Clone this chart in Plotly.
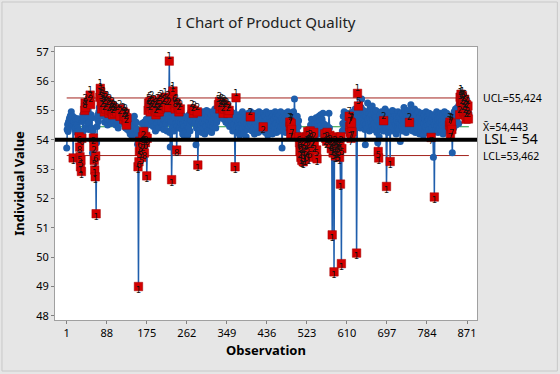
import plotly.graph_objects as go

# ---------------- data ----------------
values = [
53.72,54.35,54.52,54.28,54.61,54.45,54.73,54.58,54.82,54.66,
54.95,54.71,54.52,54.80,53.38,54.48,54.63,54.36,54.74,54.55,
54.41,54.68,54.25,54.52,54.39,54.72,54.30,54.10,53.75,53.42,
53.08,53.30,52.92,54.05,54.62,54.85,54.30,54.70,54.92,55.00,
55.25,55.10,54.88,54.42,54.65,54.90,54.55,54.78,54.35,54.60,
55.35,55.52,55.20,54.85,54.40,54.75,53.55,54.30,54.06,53.77,
53.30,52.97,52.74,53.45,51.48,53.90,54.45,54.70,54.85,54.62,
54.95,55.10,55.45,55.75,55.63,55.30,55.05,55.40,54.80,55.20,
55.50,55.15,54.95,54.60,55.28,55.05,54.75,55.35,54.85,54.50,
54.70,55.10,54.90,55.25,54.65,55.00,54.80,54.55,54.95,55.15,
54.85,55.05,54.70,54.60,54.90,55.00,54.75,54.50,54.80,54.95,
54.65,54.85,54.40,54.70,54.95,55.05,54.80,54.60,54.90,54.75,
55.10,54.85,54.60,54.95,54.70,54.55,54.80,54.90,54.40,54.65,
54.50,54.75,54.35,54.60,54.45,54.70,54.30,54.55,54.20,54.65,
54.40,54.15,54.55,54.35,54.70,54.25,54.50,54.80,54.30,54.45,
54.20,54.60,54.35,54.10,53.85,53.08,49.00,53.25,53.60,53.95,
54.30,53.70,54.20,53.40,54.55,54.10,53.85,54.28,54.60,53.55,
54.40,53.90,54.11,54.70,52.77,54.05,54.50,55.00,55.25,54.85,
55.10,55.30,54.95,54.70,55.15,55.35,54.60,55.05,54.45,54.90,
55.20,54.75,55.00,54.30,54.85,55.10,54.55,54.95,55.25,54.70,
54.40,54.95,55.30,55.05,54.60,54.85,55.40,54.75,54.50,55.15,
54.90,54.35,55.20,54.65,55.45,54.80,54.55,55.10,54.30,54.90,
55.35,54.70,55.10,56.68,54.25,53.75,54.60,54.95,52.64,54.40,
55.55,55.66,54.90,54.30,55.20,54.75,55.05,54.55,55.25,53.65,
54.45,54.80,55.10,54.65,54.95,54.40,54.75,55.05,54.60,54.85,
54.35,54.70,54.20,54.55,54.80,54.45,54.10,54.65,54.30,54.75,
54.50,54.25,54.60,54.15,54.70,54.40,54.85,54.55,54.30,54.65,
54.95,54.70,55.05,54.80,54.60,54.90,54.75,55.00,54.55,54.85,
54.65,53.83,54.40,54.75,54.95,53.14,54.50,54.80,54.60,54.90,
54.35,54.70,54.50,54.85,54.25,54.60,54.95,54.40,54.75,54.55,
54.20,54.65,54.90,54.45,55.00,54.70,54.30,54.80,54.55,54.95,
54.60,54.35,54.75,54.50,54.85,54.25,54.65,54.95,54.45,54.70,
54.90,54.55,55.05,54.75,54.40,54.85,54.60,55.00,54.70,54.95,
55.20,54.85,55.30,55.05,54.75,55.15,54.95,55.25,54.80,55.10,
54.90,55.20,54.70,55.05,54.85,55.15,54.60,54.95,55.10,54.75,
54.55,54.90,54.70,55.00,54.45,54.80,54.65,54.95,54.50,54.85,
54.60,54.30,54.75,54.50,54.90,54.35,53.08,54.70,55.43,54.80,
54.45,54.70,54.25,54.60,54.85,54.40,54.15,54.65,54.50,54.80,
54.30,54.55,54.95,54.40,54.70,54.20,54.60,54.85,54.45,54.75,
54.10,54.55,54.80,54.35,54.65,54.90,54.45,54.70,54.60,54.78,
54.95,54.50,54.75,54.30,54.60,54.85,54.40,54.65,54.20,54.70,
54.55,54.90,54.35,54.70,54.45,54.80,54.25,54.60,54.95,54.50,
54.75,54.30,54.65,54.85,54.40,54.70,54.55,54.44,54.90,54.35,
54.60,54.80,54.25,54.65,54.95,54.45,54.70,54.15,54.55,54.85,
54.40,54.70,54.30,54.60,54.90,54.50,54.75,54.20,54.65,54.85,
54.45,54.70,54.35,54.95,54.55,54.80,54.25,54.60,54.90,54.40,
54.75,54.50,54.85,54.30,54.65,54.95,54.45,54.70,53.72,54.55,
54.80,54.35,54.65,54.90,54.50,54.75,54.25,54.60,54.85,54.45,
54.70,54.95,54.55,54.30,54.80,54.60,54.45,54.20,54.55,54.35,
54.70,54.90,54.50,54.95,54.65,55.39,54.75,54.40,54.60,54.30,
54.55,54.80,54.20,54.45,54.65,54.10,53.90,53.60,53.85,53.40,
53.75,53.30,54.05,53.55,53.25,53.80,53.45,54.00,53.35,53.65,
53.90,53.50,54.10,53.70,54.28,53.95,53.40,54.15,53.60,54.30,
54.50,54.20,54.70,53.95,54.45,54.00,54.60,54.25,53.80,54.40,
54.55,54.15,54.75,53.65,53.35,54.35,54.60,54.20,54.80,54.45,
54.65,54.30,54.85,54.50,54.25,54.70,54.40,54.90,54.55,54.35,
54.45,54.20,54.50,54.05,54.35,53.95,54.25,54.45,54.10,54.30,
54.90,54.40,54.15,53.90,54.05,53.70,53.85,50.76,54.00,53.55,
53.80,49.50,53.65,54.10,53.45,53.95,53.60,54.05,53.75,53.50,
53.90,53.65,54.00,53.40,53.85,52.49,54.10,49.78,53.70,54.30,
54.55,54.80,54.35,54.95,54.60,54.75,54.40,54.85,54.50,54.90,
54.65,54.30,54.70,54.55,54.80,54.45,54.25,54.60,54.05,54.57,
54.27,54.80,54.40,54.95,54.65,54.30,54.85,55.05,54.50,54.75,
50.14,54.70,55.58,55.00,55.15,54.85,54.55,54.95,54.40,54.80,
55.10,55.39,54.65,54.90,54.45,55.00,54.60,54.85,54.35,53.83,
54.50,54.80,54.95,54.40,55.25,54.70,54.55,54.90,54.30,54.75,
55.05,54.60,54.85,54.45,55.15,54.70,54.35,54.95,54.55,54.80,
54.40,54.75,55.00,54.50,54.25,54.65,53.90,53.60,53.38,54.10,
54.55,54.85,54.35,54.70,54.95,54.45,54.60,54.90,54.30,54.65,
54.80,54.50,55.05,54.40,54.75,52.41,54.60,54.95,54.25,54.70,
54.85,54.45,54.65,53.26,54.90,54.55,54.30,54.75,55.00,54.40,
54.70,54.95,54.35,54.60,54.85,54.50,54.20,54.80,54.65,54.45,
54.95,54.60,54.35,54.80,54.55,53.94,54.70,54.90,54.45,54.65,
54.30,54.85,54.55,55.10,54.70,54.40,54.95,54.60,54.25,54.80,
54.50,55.00,54.65,54.35,54.85,54.59,54.75,54.45,55.19,54.70,
54.55,54.90,54.30,54.65,54.80,54.40,55.05,54.60,54.25,54.75,
54.50,54.85,54.35,54.70,54.95,54.45,54.60,54.20,54.80,54.55,
54.30,54.65,54.90,54.40,54.75,54.15,54.55,54.85,54.35,54.70,
54.45,54.95,54.60,54.25,54.80,54.50,54.70,54.35,54.90,54.55,
54.20,54.65,54.08,54.75,54.40,54.85,54.30,53.40,54.60,52.05,
54.50,54.80,54.35,54.65,54.95,54.45,54.70,54.25,54.85,54.55,
54.40,54.75,54.60,54.90,54.30,54.65,54.50,54.85,54.20,54.70,
54.55,54.95,54.45,54.80,54.35,54.60,54.90,54.40,54.75,54.55,
54.30,54.65,54.50,54.60,54.20,54.45,54.55,54.35,53.56,54.70,
54.85,54.40,54.95,54.60,54.75,55.05,54.50,54.90,54.65,55.10,
54.80,55.00,54.55,55.20,54.85,55.45,55.30,55.55,55.40,55.15,
55.50,55.35,55.25,54.95,55.10,55.38,54.85,55.05,54.70,55.20,
55.00,54.80,55.15,54.71,54.90,
]

# observations that failed a test, and the number of the failed test
flag_obs = [
15, 28, 29, 30, 31, 32, 33, 34, 40, 41, 42, 51, 52, 53,
59, 60, 61, 62, 63, 64, 65, 73, 74, 75, 76, 77, 78, 80,
81, 82, 83, 85, 86, 88, 92, 93, 94, 96, 99, 100,
101, 102, 105, 106, 110, 116, 117, 124, 125, 127, 128, 130, 131, 132,
156, 157, 158, 159, 160, 162, 164, 166, 167, 168, 170,
172, 173, 175, 176, 178, 179, 181, 182, 183, 185, 186, 188,
191, 193, 195, 196, 198, 199, 202, 203, 204, 207, 210,
213, 215, 218, 221, 223, 224, 229, 231, 232, 235, 237, 239, 240,
243, 245, 248, 273, 276, 278, 285, 286,
331, 333, 334, 336, 338, 340, 341, 342, 344, 346, 349, 352, 354,
367, 369, 400, 428, 486, 487, 488, 489, 490,
506, 507, 508, 509, 510, 511, 512, 513, 514, 515, 516, 517, 518, 519, 520,
521, 522, 523, 524, 525, 526, 527, 528, 529, 530,
532, 534, 536, 538, 539, 544, 545, 562, 564, 566, 567, 569,
573, 574, 575, 576, 577, 578, 579, 580, 581, 582, 583, 584, 585, 586, 587, 588, 589, 590,
591, 592, 593, 594, 595, 596, 597, 598, 599,
615, 616, 617, 618, 619, 620, 621, 631, 633, 635,
678, 679, 690, 696, 704, 746, 793, 800, 833, 834, 835, 836, 837, 838,
855, 856, 857, 858, 859, 860, 861, 862, 863, 864, 865, 866, 867, 868, 869, 870,
871, 872, 873, 874,
]
flag_tests = [
"1", "6", "8", "5", "1", "5", "1", "6", "8", "2", "2", "2", "1", "2",
"2", "2", "5", "1", "1", "6", "1", "1", "1", "1", "5", "2", "5", "2",
"1", "2", "2", "2", "2", "2", "2", "2", "2", "2", "2", "2",
"2", "2", "2", "2", "2", "2", "2", "2", "2", "2", "2", "2", "2", "2",
"1", "1", "6", "5", "6", "8", "5", "6", "2", "2", "8",
"6", "2", "1", "6", "5", "5", "6", "5", "2", "2", "2", "2",
"2", "2", "2", "2", "2", "2", "2", "2", "2", "2", "2",
"2", "1", "2", "2", "2", "1", "1", "1", "1", "6", "8", "2", "8",
"2", "2", "2", "2", "2", "2", "2", "1",
"5", "2", "2", "2", "5", "2", "2", "2", "2", "2", "2", "2", "2",
"1", "1", "2", "2", "7", "7", "7", "7", "7",
"6", "6", "2", "6", "1", "2", "1", "2", "6", "1", "2", "1", "2", "1", "6",
"2", "6", "2", "2", "2", "2", "1", "2", "6", "2",
"2", "2", "2", "2", "2", "5", "1", "2", "2", "2", "2", "2",
"2", "2", "2", "5", "6", "1", "2", "5", "6", "1", "5", "2", "1", "6", "5", "2", "6", "5",
"6", "5", "2", "1", "6", "1", "2", "1", "5",
"7", "7", "7", "7", "7", "7", "7", "1", "1", "5",
"5", "1", "2", "1", "1", "2", "7", "1", "7", "7", "7", "7", "7", "7",
"2", "1", "5", "1", "2", "2", "1", "5", "2", "2", "2", "5", "2", "2", "2", "2",
"2", "2", "2", "2",
]

x_ticks = [1, 88, 175, 262, 349, 436, 523, 610, 697, 784, 871]
y_ticks = [48, 49, 50, 51, 52, 53, 54, 55, 56, 57]

UCL = 55.424
CENTER = 54.443
LCL = 53.462
LSL = 54

# ---------------- figure ----------------
obs = list(range(1, len(values) + 1))
BLUE = "#1F5EAC"
RED = "#D40000"

fig = go.Figure()

# control limits & center (drawn from first to last observation)
fig.add_trace(go.Scatter(x=[obs[0], obs[-1]], y=[UCL, UCL], mode="lines",
                         line=dict(color="#A2221C", width=1), hoverinfo="skip"))
fig.add_trace(go.Scatter(x=[obs[0], obs[-1]], y=[LCL, LCL], mode="lines",
                         line=dict(color="#A2221C", width=1), hoverinfo="skip"))
fig.add_trace(go.Scatter(x=[obs[0], obs[-1]], y=[CENTER, CENTER], mode="lines",
                         line=dict(color="#1E9A3A", width=1), hoverinfo="skip"))

# main series
fig.add_trace(go.Scatter(x=obs, y=values, mode="lines+markers",
                         line=dict(color=BLUE, width=1.5),
                         marker=dict(symbol="circle", size=7, color=BLUE)))

# LSL thick line across the plot
fig.add_shape(type="line", xref="paper", yref="y", x0=0, x1=1, y0=LSL, y1=LSL,
              line=dict(color="black", width=4), layer="above")

# flagged points
fy = [values[o - 1] for o in flag_obs]
fig.add_trace(go.Scatter(x=flag_obs, y=fy, mode="markers",
                         marker=dict(symbol="square", size=8.5, color=RED,
                                     line=dict(color="#A00000", width=0.5))))
tpos = ["top center" if v > CENTER else "bottom center" for v in fy]
fig.add_trace(go.Scatter(x=flag_obs, y=fy, mode="text", text=flag_tests,
                         textposition=tpos,
                         textfont=dict(family="DejaVu Sans", size=8.5, color="#111111")))

# right-hand labels
ann_font = dict(family="Noto Sans", size=10.5, color="black")
fig.add_annotation(xref="paper", yref="y", x=1.009, y=UCL, text="UCL=55,424",
                   showarrow=False, xanchor="left", font=ann_font)
fig.add_annotation(xref="paper", yref="y", x=1.009, y=CENTER, text="X\u0304=54,443",
                   showarrow=False, xanchor="left", font=ann_font)
fig.add_annotation(xref="paper", yref="y", x=1.011, y=LSL + 0.05, text="LSL = 54",
                   showarrow=False, xanchor="left",
                   font=dict(family="Noto Sans", size=14, color="black"))
fig.add_annotation(xref="paper", yref="y", x=1.009, y=LCL, text="LCL=53,462",
                   showarrow=False, xanchor="left", font=ann_font)

# outer frame
fig.add_shape(type="rect", xref="paper", yref="paper",
              x0=-0.1257, x1=1.1904, y0=-0.1868, y1=1.1648,
              line=dict(color="#C8C8C8", width=1), fillcolor="rgba(0,0,0,0)", layer="below")

fig.update_layout(
    width=560, height=374,
    margin=dict(l=55, r=83, t=47, b=54, autoexpand=False),
    paper_bgcolor="#E6E6E6", plot_bgcolor="white",
    showlegend=False,
    title=dict(text="I Chart of Product Quality", x=0.475, xanchor="center",
               y=0.94, yanchor="middle",
               font=dict(family="Noto Sans", size=15, color="#222222")),
    font=dict(family="Noto Sans", size=11, color="black"),
)
fig.update_xaxes(range=[-24.4, 892.7], tickvals=x_ticks, ticks="outside", ticklen=3,
                 tickcolor="#808080", showgrid=False, zeroline=False, automargin=False,
                 showline=True, linecolor="#A0A0A0", mirror=True,
                 tickfont=dict(size=11),
                 title=dict(text="<b>Observation</b>", font=dict(size=13), standoff=6))
fig.update_yaxes(range=[47.86, 57.16], tickvals=y_ticks, ticks="outside", ticklen=3,
                 tickcolor="#808080", showgrid=False, zeroline=False, automargin=False,
                 showline=True, linecolor="#A0A0A0", mirror=True,
                 tickfont=dict(size=11),
                 title=dict(text="<b>Individual Value</b>", font=dict(size=13), standoff=8))

fig.write_html("out.html", config={"displayModeBar": False},
               post_script="document.body.style.margin='0';document.body.style.padding='0';")
